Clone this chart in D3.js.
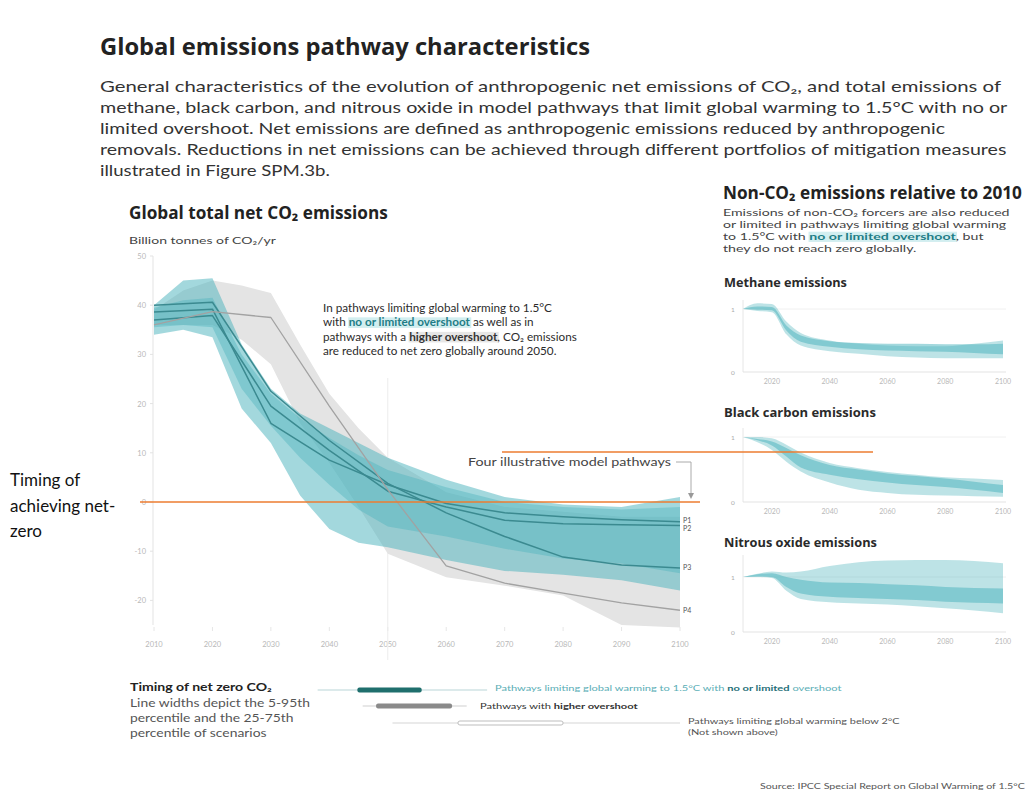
<!DOCTYPE html>
<html><head><meta charset="utf-8">
<script src="https://cdn.jsdelivr.net/npm/d3@7"></script>
<style>
body{margin:0;background:#fff}
svg{display:block}
text{font-family:Lato,"Open Sans",sans-serif}
.hd{font-family:"Open Sans",sans-serif}
</style>
</head><body>
<svg id="c" width="1033" height="805"></svg>
<script>
// ---- Global net CO2 (GtCO2/yr) ----
const bandYears = [2010, 2015, 2020, 2025, 2030, 2035, 2040, 2045, 2050, 2060, 2070, 2080, 2090, 2100];
// 1.5°C, no or limited overshoot: 5–95th percentile
const outerHi = [40, 45, 45.5, 32, 23, 18, 15, 12, 9, 4.5, 1, -0.5, -1, 1];
const outerLo = [34, 35, 33.5, 19, 12, 1.3, -5.5, -8.3, -9.2, -11.8, -14, -14.8, -15.9, -18];
// 1.5°C, no or limited overshoot: 25–75th percentile
const innerHi = [39.5, 41, 41.5, 30, 22, 17, 13, 9.5, 6.5, 3, 0, -1, -1.5, -1];
const innerLo = [35.5, 36, 35.5, 23, 15.5, 9, 3.5, -1.5, -5, -7, -9.5, -11.5, -12.5, -14.5];
// higher overshoot range
const grayHi = [39, 43, 45, 44, 42.5, 32, 22, 15, 9, 2, -1, -2, -3, -3];
const grayLo = [36, 36, 36, 33, 28, 16, 8, -1, -10.5, -15.3, -17, -19, -25, -25.5];

// illustrative pathways
const pathYears = [2010, 2020, 2030, 2040, 2050, 2060, 2070, 2080, 2090, 2100];
const P1 = [38.6, 39.2, 16.0, 8.5, 3.5, -0.3, -2.2, -3.0, -3.6, -4.0];
const P2 = [37.0, 37.9, 19.5, 10.5, 2.2, -1.0, -3.7, -4.4, -4.6, -4.8];
const P3 = [40.0, 40.6, 22.5, 12.5, 3.8, -2.2, -7.0, -11.2, -12.8, -13.4];
const P4 = [36.0, 38.7, 37.5, 19.5, 2.5, -13.0, -16.5, -18.5, -20.5, -22.0];
const pathNames = ["P1", "P2", "P3", "P4"];

const yTicks = [50, 40, 30, 20, 10, 0, -10, -20];
const xTicks = [2010, 2020, 2030, 2040, 2050, 2060, 2070, 2080, 2090, 2100];

// ---- Non-CO2 emissions relative to 2010 ----
const nYears = [2010, 2015, 2020, 2025, 2030, 2040, 2050, 2060, 2070, 2080, 2090, 2100];
const methOutHi = [1, 1.09, 1.08, 0.8, 0.62, 0.5, 0.45, 0.42, 0.41, 0.41, 0.45, 0.5];
const methOutLo = [1, 0.97, 0.95, 0.6, 0.42, 0.33, 0.29, 0.25, 0.23, 0.22, 0.22, 0.22];
const methInHi = [1, 1.04, 1.03, 0.74, 0.58, 0.49, 0.46, 0.45, 0.45, 0.44, 0.44, 0.45];
const methInLo = [1, 0.99, 0.98, 0.66, 0.48, 0.4, 0.36, 0.34, 0.33, 0.32, 0.3, 0.28];
const bcOutHi = [1, 1.0, 0.98, 0.88, 0.76, 0.6, 0.52, 0.46, 0.42, 0.38, 0.36, 0.34];
const bcOutLo = [1, 0.92, 0.8, 0.62, 0.47, 0.3, 0.19, 0.14, 0.11, 0.1, 0.09, 0.08];
const bcInHi = [1, 0.97, 0.93, 0.83, 0.72, 0.57, 0.5, 0.44, 0.4, 0.36, 0.31, 0.26];
const bcInLo = [1, 0.95, 0.87, 0.7, 0.53, 0.42, 0.35, 0.3, 0.26, 0.23, 0.19, 0.14];
const n2oOutHi = [1, 1.06, 1.1, 1.08, 1.1, 1.2, 1.27, 1.3, 1.31, 1.31, 1.29, 1.25];
const n2oOutLo = [1, 1.0, 0.98, 0.75, 0.6, 0.54, 0.52, 0.5, 0.47, 0.43, 0.39, 0.34];
const n2oInHi = [1, 1.05, 1.07, 1.0, 0.95, 0.9, 0.89, 0.87, 0.85, 0.82, 0.8, 0.79];
const n2oInLo = [1, 1.01, 1.0, 0.82, 0.7, 0.64, 0.62, 0.6, 0.58, 0.55, 0.53, 0.52];
const panelTicks = [2020, 2040, 2060, 2080, 2100];

// ---- Timing of net zero CO2 (years) ----
const timingP5 = [2038, 2045.7, 2050.8];
const timingP25 = [2044.8, 2048, 2062];
const timingP75 = [2055.8, 2061, 2080];
const timingP95 = [2067, 2063.5, 2100];

// ---------------------------------------------------------------
const svg = d3.select("#c");
svg.append("rect").attr("width", 1033).attr("height", 805).attr("fill", "#fff");

const TEAL = "#48b1bb", DARK = "#3b8a90", INK = "#2b2b2b";

function fit(sel, w) {
  const cur = sel.node().getComputedTextLength();
  const fs = parseFloat(sel.attr("font-size"));
  sel.attr("font-size", (fs * w / cur).toFixed(2));
  return sel;
}

// styled runs inside one text element; a run is "text" or ["text", style]
function rich(g, x0, y0, runs, size, color) {
  const t = g.append("text").attr("x", x0).attr("y", y0)
    .attr("font-size", size).attr("fill", color);
  runs.forEach(r => {
    const s = typeof r === "string" ? [r] : r;
    const ts = t.append("tspan").text(s[0]);
    if (s[1] === "teal") ts.attr("font-weight", 700).attr("fill", "#1f7d86").attr("class", "hl-teal");
    if (s[1] === "gray") ts.attr("font-weight", 700).attr("fill", "#333").attr("class", "hl-gray");
    if (s[1] === "b") ts.attr("font-weight", 700);
    if (s[1] === "tb") ts.attr("font-weight", 700).attr("fill", "#1f6f78");
  });
  return t;
}

// a block of lines set at one size, stretched horizontally so its first line spans width w
function block(parent, x0, y0, lh, lines, size, color, w) {
  const g = parent.append("g");
  const hl = g.append("g");
  const tg = g.append("g");
  const texts = lines.map((r, i) => rich(tg, x0, y0 + i * lh, r, size, color));
  const k = w / texts[0].node().getComputedTextLength();
  g.attr("transform", `translate(${x0},0) scale(${k},1) translate(${-x0},0)`);
  texts.forEach(t => t.selectAll("tspan.hl-teal, tspan.hl-gray").each(function () {
    const b = this.getBBox();
    hl.append("rect").attr("x", b.x - 0.5).attr("y", b.y + 1.5).attr("width", b.width + 1)
      .attr("height", b.height - 2)
      .attr("fill", d3.select(this).classed("hl-teal") ? "#d2eef0" : "#e6e6e6");
  }));
  return g;
}

// ---- heading ----
fit(svg.append("text").attr("class", "hd").attr("x", 100).attr("y", 55).attr("font-size", 21)
  .attr("font-weight", 700).attr("fill", "#222")
  .text("Global emissions pathway characteristics"), 490);

const para = [
  "General characteristics of the evolution of anthropogenic net emissions of CO₂, and total emissions of",
  "methane, black carbon, and nitrous oxide in model pathways that limit global warming to 1.5°C with no or",
  "limited overshoot. Net emissions are defined as anthropogenic emissions reduced by anthropogenic",
  "removals. Reductions in net emissions can be achieved through different portfolios of mitigation measures",
  "illustrated in Figure SPM.3b."
];
const paraWidths = [902, 908, 846, 907, 230];
para.forEach((l, i) => block(svg, 100, 92 + i * 21, 21, [[l]], 14.5, "#333", paraWidths[i]));

// ---- main CO2 chart ----
const x = d3.scaleLinear().domain([2010, 2100]).range([154, 680]);
const y = d3.scaleLinear().domain([-25, 50]).range([625, 256]);

fit(svg.append("text").attr("class", "hd").attr("x", 129).attr("y", 219).attr("font-size", 16)
  .attr("font-weight", 700).attr("fill", "#222").text("Global total net CO₂ emissions"), 259);
block(svg, 129, 244, 12, [["Billion tonnes of CO₂/yr"]], 10, "#444", 147);

const main = svg.append("g");
// y axis
main.append("line").attr("x1", x(2010) - 1).attr("x2", x(2010) - 1)
  .attr("y1", y(50)).attr("y2", y(-25)).attr("stroke", "#e3e3e3");
main.selectAll(".yt").data(yTicks).join("text")
  .attr("x", 146).attr("y", d => y(d) + 3).attr("text-anchor", "end")
  .attr("font-size", 7.5).attr("fill", "#b8b8b8").text(d => d);
main.selectAll(".ytk").data(yTicks).join("line")
  .attr("x1", x(2010) - 4).attr("x2", x(2010) - 1).attr("y1", d => y(d)).attr("y2", d => y(d))
  .attr("stroke", "#e3e3e3");
// x axis labels and ticks
main.selectAll(".xt").data(xTicks).join("text")
  .attr("x", d => x(d)).attr("y", 647).attr("text-anchor", "middle")
  .attr("font-size", 7.5).attr("fill", "#b8b8b8").text(d => d);
main.selectAll(".xtk").data(xTicks).join("line")
  .attr("x1", d => x(d)).attr("x2", d => x(d)).attr("y1", 627).attr("y2", 631)
  .attr("stroke", "#e6e6e6");
// 2050 guide
main.append("line").attr("x1", x(2050)).attr("x2", x(2050)).attr("y1", 378).attr("y2", 660)
  .attr("stroke", "#ececec");

const bandArea = d3.area().x(d => x(d[0])).y0(d => y(d[2])).y1(d => y(d[1]));
const zip = (a, b) => bandYears.map((yr, i) => [yr, a[i], b[i]]);
main.append("path").attr("d", bandArea(zip(grayHi, grayLo))).attr("fill", "#e4e4e4");
main.append("path").attr("d", bandArea(zip(outerHi, outerLo))).attr("fill", TEAL).attr("fill-opacity", 0.5);
main.append("path").attr("d", bandArea(zip(innerHi, innerLo))).attr("fill", TEAL).attr("fill-opacity", 0.4);

const line = d3.line().x(d => x(d[0])).y(d => y(d[1]));
const paths = [P1, P2, P3, P4];
paths.forEach((p, i) => {
  main.append("path").attr("d", line(pathYears.map((yr, j) => [yr, p[j]])))
    .attr("fill", "none").attr("stroke", i === 3 ? "#a2a2a2" : DARK)
    .attr("stroke-width", i === 3 ? 1.3 : 1.5).attr("stroke-linejoin", "round");
});
const labelShift = [-1.5, 2.5, 0, 0];
paths.forEach((p, i) => {
  main.append("text").attr("x", 683).attr("y", y(p[p.length - 1]) + 2.5 + labelShift[i])
    .attr("font-size", 7).attr("fill", "#555").text(pathNames[i]);
});

// annotation
block(main, 323, 312, 14.5, [
  ["In pathways limiting global warming to 1.5°C"],
  ["with ", ["no or limited overshoot", "teal"], " as well as in"],
  ["pathways with a ", ["higher overshoot", "gray"], ", CO₂ emissions"],
  ["are reduced to net zero globally around 2050."]
], 11, INK, 229);

block(main, 468, 466, 12, [["Four illustrative model pathways"]], 11, "#444", 203);
main.append("path").attr("d", "M676,462H691V494").attr("fill", "none").attr("stroke", "#aaa");
main.append("path").attr("d", "M688,493L691,499L694,493Z").attr("fill", "#999");

// ---- non-CO2 panels ----
fit(svg.append("text").attr("class", "hd").attr("x", 723).attr("y", 199).attr("font-size", 15)
  .attr("font-weight", 700).attr("fill", "#222").text("Non-CO₂ emissions relative to 2010"), 299);
block(svg, 723, 216, 12, [
  ["Emissions of non-CO₂ forcers are also reduced"],
  ["or limited in pathways limiting global warming"],
  ["to 1.5°C with ", ["no or limited overshoot", "teal"], ", but"],
  ["they do not reach zero globally."]
], 10, "#444", 287);

const px = d3.scaleLinear().domain([2010, 2100]).range([743, 1003]);
const panels = [
  { title: "Methane emissions", tY: 287, tW: 123, y0: 372, y1: 309, top: 300,
    oh: methOutHi, ol: methOutLo, ih: methInHi, il: methInLo },
  { title: "Black carbon emissions", tY: 417, tW: 152, y0: 502, y1: 437, top: 428,
    oh: bcOutHi, ol: bcOutLo, ih: bcInHi, il: bcInLo },
  { title: "Nitrous oxide emissions", tY: 547, tW: 153, y0: 632, y1: 577, top: 555,
    oh: n2oOutHi, ol: n2oOutLo, ih: n2oInHi, il: n2oInLo }
];
panels.forEach(pn => {
  const g = svg.append("g");
  const py = d3.scaleLinear().domain([0, 1]).range([pn.y0, pn.y1]);
  fit(g.append("text").attr("class", "hd").attr("x", 724).attr("y", pn.tY).attr("font-size", 10.5)
    .attr("font-weight", 700).attr("fill", "#2a2a2a").text(pn.title), pn.tW);
  g.append("line").attr("x1", px(2010)).attr("x2", px(2010)).attr("y1", pn.top).attr("y2", py(0))
    .attr("stroke", "#e6e6e6");
  g.append("line").attr("x1", px(2010)).attr("x2", 1006).attr("y1", py(0)).attr("y2", py(0))
    .attr("stroke", "#e3e3e3");
  g.append("line").attr("x1", px(2010)).attr("x2", 1006).attr("y1", py(1)).attr("y2", py(1))
    .attr("stroke", "#f0f0f0");
  [0, 1].forEach(v => g.append("text").attr("x", 733).attr("y", py(v) + 2.5)
    .attr("text-anchor", "middle").attr("font-size", 6.5).attr("fill", "#aaa").text(v));
  g.selectAll(".pt").data(panelTicks).join("text")
    .attr("x", d => px(d)).attr("y", py(0) + 12).attr("text-anchor", "middle")
    .attr("font-size", 7).attr("fill", "#b8b8b8").text(d => d);
  const ar = d3.area().curve(d3.curveMonotoneX).x(d => px(d[0])).y0(d => py(d[2])).y1(d => py(d[1]));
  const z = (a, b) => nYears.map((yr, i) => [yr, a[i], b[i]]);
  g.append("path").attr("d", ar(z(pn.oh, pn.ol))).attr("fill", TEAL).attr("fill-opacity", 0.36);
  g.append("path").attr("d", ar(z(pn.ih, pn.il))).attr("fill", TEAL).attr("fill-opacity", 0.5);
});

// ---- timing of net zero ----
const leg = svg.append("g");
block(leg, 130, 691, 12, [[["Timing of net zero CO₂", "b"]]], 10.5, "#222", 142);
block(leg, 130, 707, 15, [
  ["Line widths depict the 5-95th"],
  ["percentile and the 25-75th"],
  ["percentile of scenarios"]
], 10.5, "#555", 180);

const rowY = [690, 706, 723];
const rowThin = ["#b9d6d8", "#cfcfcf", "#d6d6d6"];
rowY.forEach((ry, i) => {
  leg.append("line").attr("x1", x(timingP5[i])).attr("x2", x(timingP95[i]))
    .attr("y1", ry).attr("y2", ry).attr("stroke", rowThin[i]).attr("stroke-width", 1.1);
  const r = leg.append("rect").attr("x", x(timingP25[i])).attr("width", x(timingP75[i]) - x(timingP25[i]))
    .attr("rx", 2);
  if (i === 0) r.attr("y", ry - 2.5).attr("height", 5).attr("fill", "#1f6f6d");
  if (i === 1) r.attr("y", ry - 2.5).attr("height", 5).attr("fill", "#8a8a8a");
  if (i === 2) r.attr("y", ry - 2).attr("height", 4).attr("fill", "#fff").attr("stroke", "#bdbdbd");
});
block(leg, 495, 691, 12, [["Pathways limiting global warming to 1.5°C with ", ["no or limited", "tb"], " overshoot"]], 8, "#5aaeb6", 347);
block(leg, 480, 709, 12, [["Pathways with ", ["higher overshoot", "b"]]], 8, "#333", 158);
block(leg, 688, 724, 11, [
  ["Pathways limiting global warming below 2°C"],
  ["(Not shown above)"]
], 8, "#555", 212);

block(svg, 760, 789, 10, [["Source: IPCC Special Report on Global Warming of 1.5°C"]], 7.5, "#555", 265);

// ---- net-zero timing callouts ----
const callout = svg.append("g");
callout.append("line").attr("x1", 140).attr("x2", 700).attr("y1", y(0)).attr("y2", y(0))
  .attr("stroke", "#ed7d31").attr("stroke-width", 1.6);
callout.append("line").attr("x1", 502).attr("x2", 873).attr("y1", 452).attr("y2", 452)
  .attr("stroke", "#ed7d31").attr("stroke-width", 1.6);
["Timing of", "achieving net-", "zero"].forEach((l, i) =>
  callout.append("text").attr("x", 10).attr("y", 486 + i * 25.5).attr("font-size", 17)
    .attr("font-family", "'Liberation Sans', sans-serif").attr("fill", "#111").text(l));
</script>
</body></html>
